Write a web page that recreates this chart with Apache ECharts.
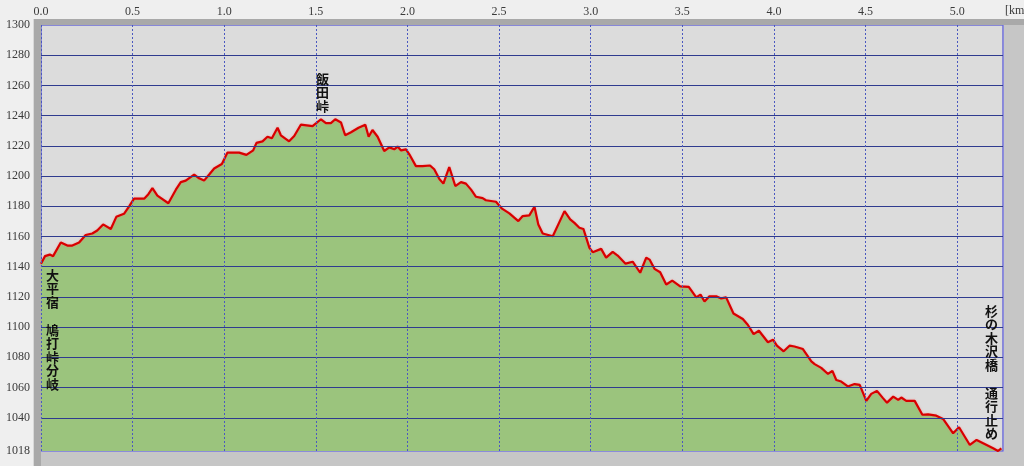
<!DOCTYPE html>
<html><head><meta charset="utf-8">
<script src="https://cdn.jsdelivr.net/npm/echarts@6/dist/echarts.min.js"></script>
<style>html,body{margin:0;padding:0;background:#efefef;}#c{width:1024px;height:466px;}</style>
</head><body><div id="c"></div>
<script>
const xTicks = [0.0, 0.5, 1.0, 1.5, 2.0, 2.5, 3.0, 3.5, 4.0, 4.5, 5.0];
const yTicks = [1018, 1040, 1060, 1080, 1100, 1120, 1140, 1160, 1180, 1200, 1220, 1240, 1260, 1280, 1300];
const hGrid = [1040, 1060, 1080, 1100, 1120, 1140, 1160, 1180, 1200, 1220, 1240, 1260, 1280];
const vGrid = [0.0, 0.5, 1.0, 1.5, 2.0, 2.5, 3.0, 3.5, 4.0, 4.5, 5.0];
const dist = [0.000,0.022,0.048,0.066,0.108,0.144,0.171,0.208,0.244,0.280,0.307,0.339,0.381,0.411,0.453,0.481,0.508,0.563,0.586,0.608,0.635,0.695,0.736,0.763,0.790,0.836,0.863,0.890,0.918,0.945,0.987,1.017,1.081,1.121,1.158,1.176,1.209,1.236,1.260,1.291,1.309,1.354,1.382,1.418,1.482,1.528,1.555,1.582,1.606,1.637,1.660,1.692,1.733,1.770,1.788,1.809,1.837,1.873,1.901,1.928,1.946,1.965,1.992,2.010,2.046,2.082,2.123,2.146,2.174,2.196,2.228,2.261,2.292,2.319,2.347,2.374,2.410,2.428,2.483,2.516,2.556,2.605,2.629,2.665,2.693,2.714,2.738,2.793,2.829,2.857,2.888,2.911,2.938,2.960,2.993,3.011,3.057,3.084,3.120,3.147,3.190,3.229,3.270,3.303,3.321,3.348,3.379,3.412,3.445,3.488,3.535,3.576,3.599,3.621,3.648,3.685,3.712,3.739,3.779,3.830,3.857,3.889,3.918,3.967,3.995,4.016,4.053,4.085,4.112,4.158,4.204,4.222,4.258,4.295,4.319,4.340,4.367,4.403,4.440,4.468,4.504,4.531,4.562,4.595,4.617,4.651,4.678,4.695,4.722,4.768,4.810,4.841,4.886,4.923,4.978,5.010,5.069,5.106,5.144,5.196,5.223,5.241];
const elev = [1142,1147,1148,1147,1156,1154,1154,1156,1161,1162,1164,1168,1165,1173,1175,1180,1185,1185,1188,1192,1187,1182,1191,1196,1197,1201,1198.5,1197,1201,1205,1208,1215.5,1215.5,1214,1217,1222,1223,1226,1225,1232,1227,1223,1226.5,1234,1233,1237.6,1235,1235,1237.6,1235.5,1227,1229,1232,1234,1226,1230.5,1226,1216.6,1219,1217.7,1219.5,1217,1217.7,1214.4,1206.6,1206.6,1207,1204.5,1198,1195,1206,1193.4,1196,1195,1191,1186.3,1185.4,1184,1183,1178.4,1175.3,1170.2,1173.5,1174,1179.7,1168,1162,1160.2,1169.5,1176.8,1171.3,1169,1165.8,1165,1152.5,1149.6,1151.8,1146,1149.8,1147.4,1142,1143.3,1136,1146,1144.7,1138.6,1136.3,1128.2,1130.8,1127,1126.6,1119.7,1121.5,1117,1120.4,1120.4,1119,1119.7,1109,1105.4,1101.6,1095.4,1097.6,1090,1091.7,1087.7,1084,1087.7,1087.2,1085.5,1077.3,1075.5,1073,1069,1071,1065,1064,1060.7,1062.3,1061.8,1051.2,1055.8,1057.8,1053,1050,1054,1051.8,1053.4,1051.2,1051.2,1042,1042.3,1041.4,1039.2,1029.7,1033.7,1022,1025.3,1023,1019.8,1018,1019.8];

const pts = dist.map((d, i) => [d, elev[i]]);
const chart = echarts.init(document.getElementById('c'), null, {renderer: 'canvas'});
const labelFont = {fontFamily: 'Liberation Serif', fontSize: 12, color: '#3a3a3a'};
const annoStyle = {fontFamily: 'Noto Sans CJK JP', fontSize: 13, fontWeight: 'bold', fill: '#111', lineHeight: 13.5};

chart.setOption({
  animation: false,
  backgroundColor: '#efefef',
  grid: {left: 41, right: 21, top: 25, bottom: 15, show: true, backgroundColor: '#dcdcdc', borderColor: '#6b6bd6', borderWidth: 1.5},
  xAxis: {
    type: 'value', position: 'top', min: 0, max: 5.25,
    axisLine: {show: false}, axisTick: {show: false}, splitLine: {show: false},
    axisLabel: Object.assign({customValues: xTicks, formatter: v => Number(v).toFixed(1), margin: 7}, labelFont)
  },
  yAxis: {
    type: 'value', min: 1018, max: 1300,
    axisLine: {show: false}, axisTick: {show: false}, splitLine: {show: false},
    axisLabel: Object.assign({customValues: yTicks, formatter: v => String(Math.round(v)), margin: 11}, labelFont)
  },
  series: [
    {type: 'line', data: pts, showSymbol: false, z: 1, lineStyle: {width: 0, opacity: 0},
     areaStyle: {color: '#9bc47d', opacity: 1}},
    {type: 'line', data: [], z: 2, showSymbol: false,
     markLine: {silent: true, symbol: 'none', label: {show: false}, animation: false,
       data: hGrid.map(v => ({yAxis: v, lineStyle: {color: '#2f3b8f', width: 1, type: 'solid'}}))
         .concat(vGrid.map(v => ({xAxis: v, lineStyle: {color: '#4a58c0', width: 1, type: [2, 2]}})))}},
    {type: 'line', data: pts, showSymbol: false, z: 3,
     lineStyle: {color: '#d80000', width: 2.2, shadowColor: 'rgba(255,120,120,0.6)', shadowBlur: 2}}
  ],
  graphic: [
    {type: 'rect', shape: {x: 33, y: 19, width: 8, height: 447}, style: {fill: '#a9a9a9'}, z: 0},
    {type: 'rect', shape: {x: 33, y: 19, width: 991, height: 6}, style: {fill: '#a9a9a9'}, z: 0},
    {type: 'rect', shape: {x: 33, y: 19, width: 1, height: 447}, style: {fill: '#d8d8d8'}, z: 0},
    {type: 'rect', shape: {x: 1004, y: 25, width: 20, height: 441}, style: {fill: '#c6c6c6'}, z: 0},
    {type: 'rect', shape: {x: 41, y: 452, width: 983, height: 14}, style: {fill: '#c6c6c6'}, z: 0},
    {type: 'text', left: 1005, top: 5, style: {text: '[km]', fontFamily: 'Liberation Serif', fontSize: 12, fill: '#3a3a3a'}, z: 10},
    {type: 'text', left: 46, top: 268, style: Object.assign({text: '大\n平\n宿'}, annoStyle), z: 10},
    {type: 'text', left: 46, top: 323, style: Object.assign({text: '鳩\n打\n峠\n分\n岐'}, annoStyle), z: 10},
    {type: 'text', left: 316, top: 72, style: Object.assign({text: '飯\n田\n峠'}, annoStyle), z: 10},
    {type: 'text', left: 985, top: 304, style: Object.assign({text: '杉\nの\n木\n沢\n橋'}, annoStyle), z: 10},
    {type: 'text', left: 985, top: 386, style: Object.assign({text: '通\n行\n止\nめ'}, annoStyle), z: 10}
  ]
});
</script></body></html>
